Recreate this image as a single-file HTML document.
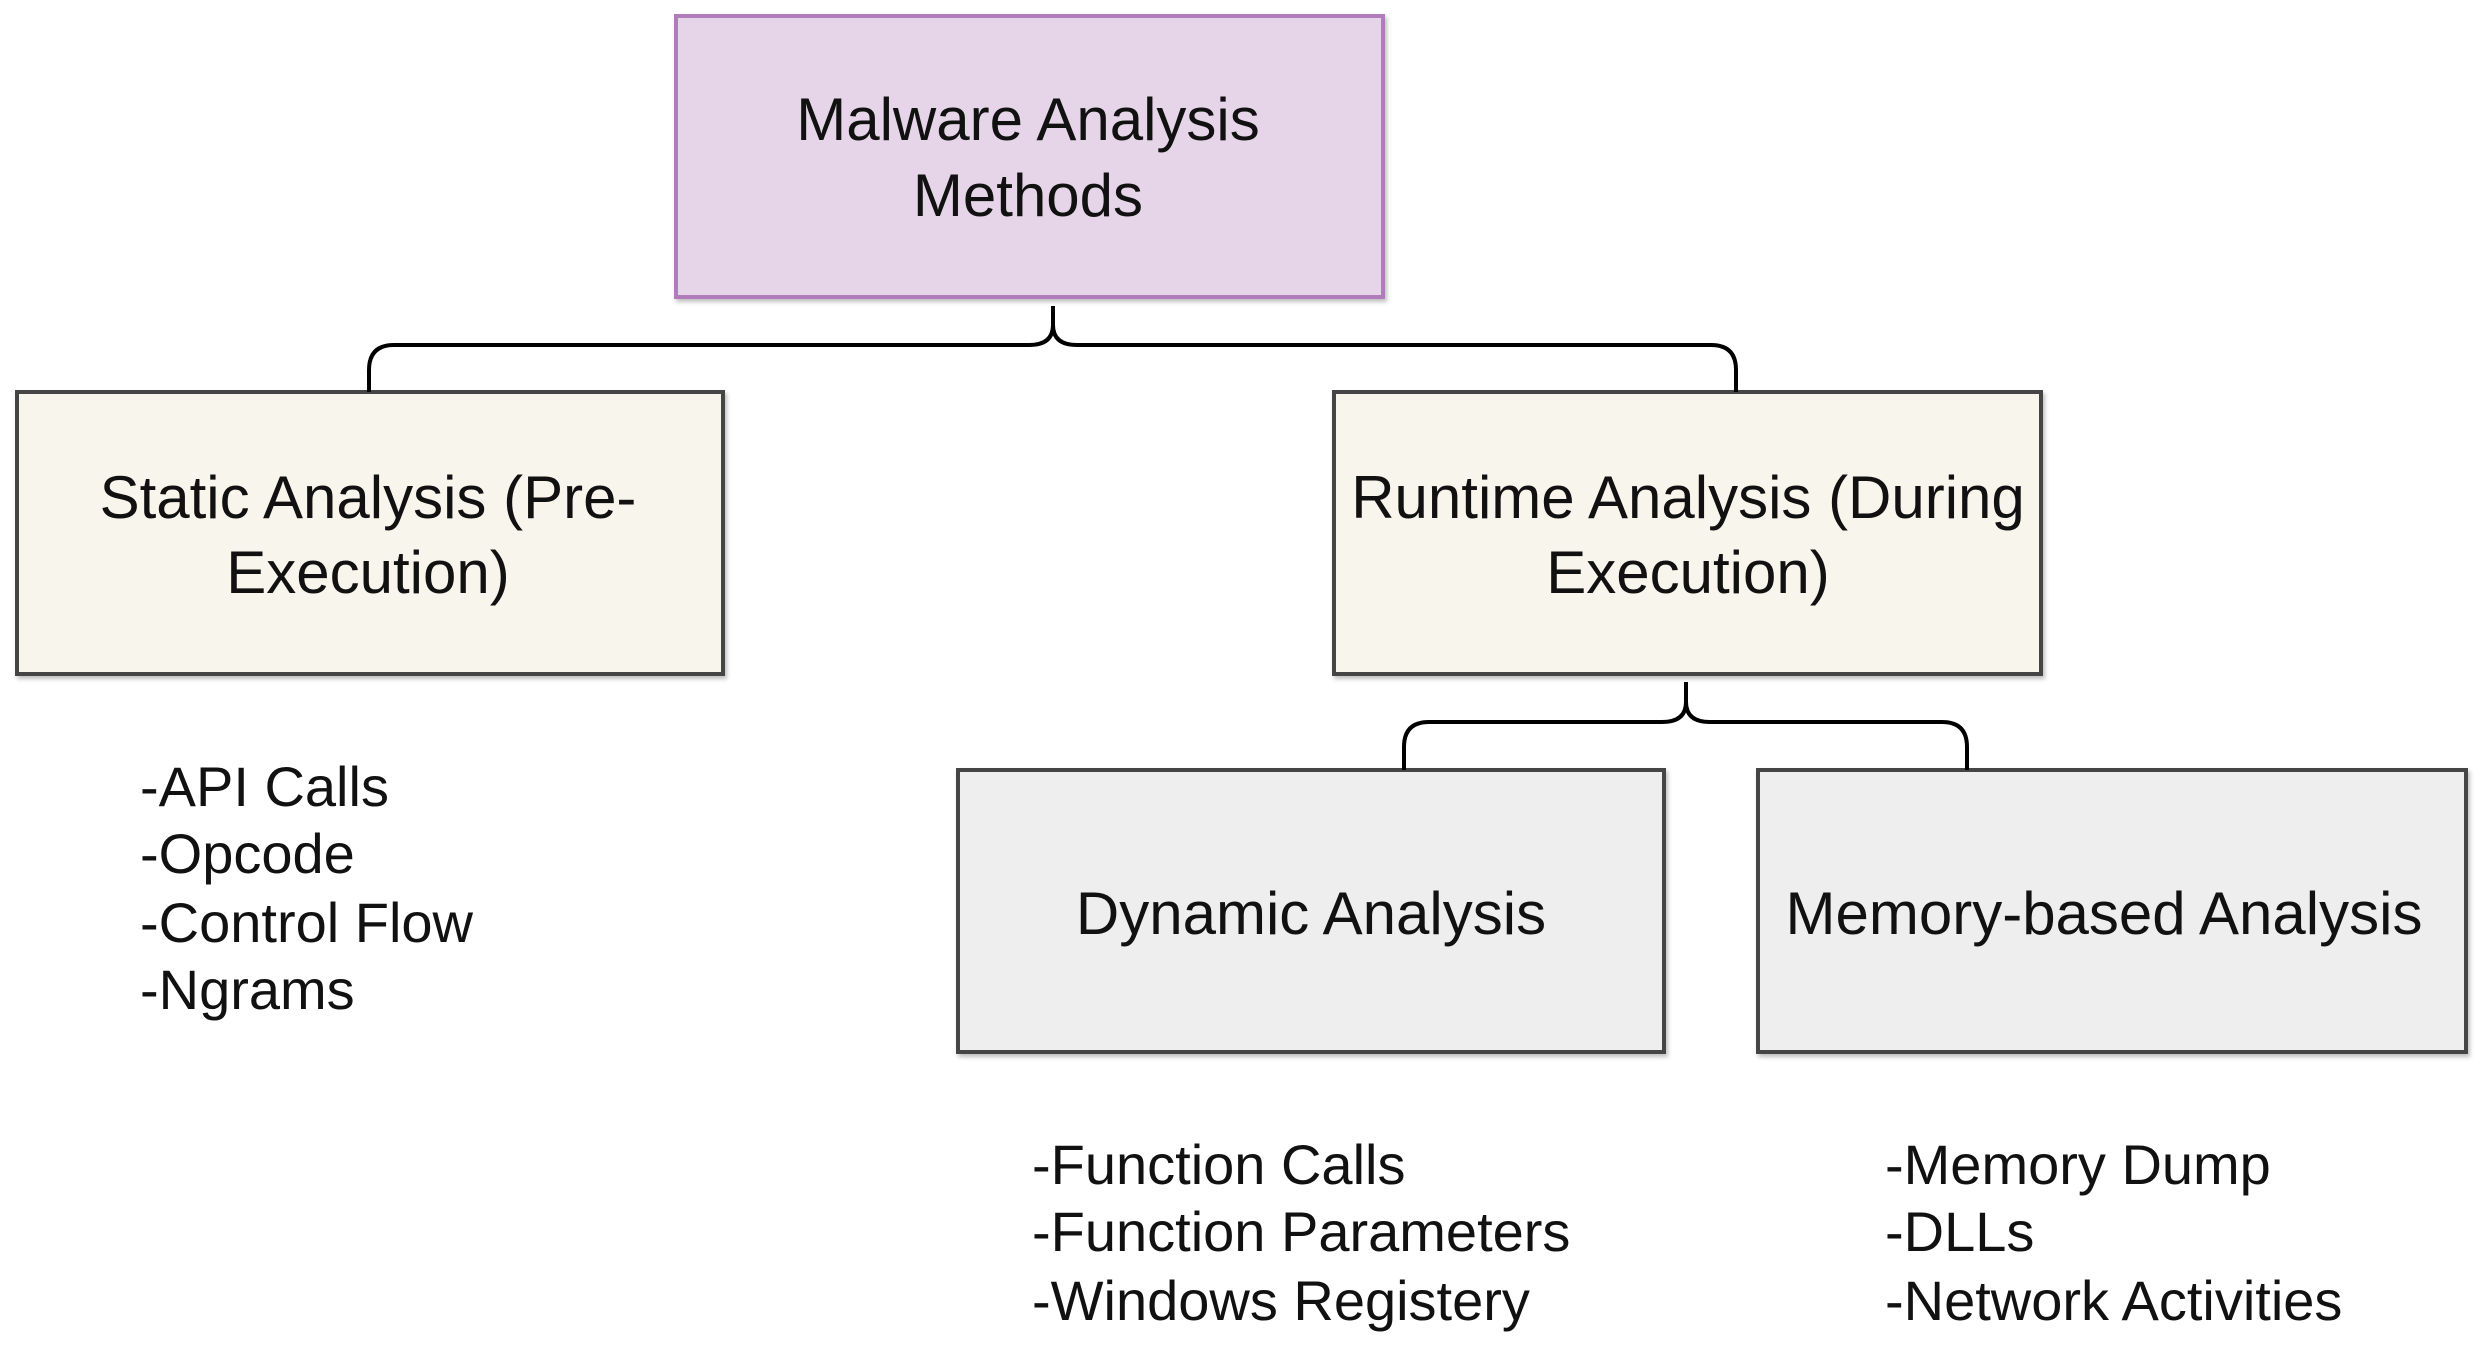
<!DOCTYPE html>
<html><head><meta charset="utf-8"><style>
html,body{margin:0;padding:0;background:#fff;}
svg{display:block;}
text{font-family:"Liberation Sans",Arial,sans-serif;font-size:56px;fill:#111;}
.b{font-size:60px;}
</style></head><body>
<svg width="2484" height="1346" viewBox="0 0 2484 1346" xmlns="http://www.w3.org/2000/svg">
<defs><filter id="sh" x="-5%" y="-5%" width="110%" height="110%"><feDropShadow dx="2" dy="3" stdDeviation="2" flood-color="#000" flood-opacity="0.25"/></filter></defs>
<rect x="676" y="16" width="707" height="281" fill="#e6d5e8" stroke="#b07cbc" stroke-width="4" filter="url(#sh)"/>
<rect x="17" y="392" width="706" height="282" fill="#f8f5ec" stroke="#444" stroke-width="4" filter="url(#sh)"/>
<rect x="1334" y="392" width="707" height="282" fill="#f8f5ec" stroke="#444" stroke-width="4" filter="url(#sh)"/>
<rect x="958" y="770" width="706" height="282" fill="#eeeeee" stroke="#444" stroke-width="4" filter="url(#sh)"/>
<rect x="1758" y="770" width="708" height="282" fill="#eeeeee" stroke="#444" stroke-width="4" filter="url(#sh)"/>
<g fill="none" stroke="#000" stroke-width="4">
<path d="M1053 306 L1053 325 Q1053 345 1029 345 L394 345 Q369 345 369 370 L369 392"/>
<path d="M1053 306 L1053 325 Q1053 345 1077 345 L1711 345 Q1736 345 1736 370 L1736 392"/>
<path d="M1686 682 L1686 702 Q1686 722 1662 722 L1429 722 Q1404 722 1404 747 L1404 770"/>
<path d="M1686 682 L1686 702 Q1686 722 1710 722 L1942 722 Q1967 722 1967 747 L1967 770"/>
</g>
<g text-anchor="middle" class="b">
<text class="b" x="1028" y="140">Malware Analysis</text>
<text class="b" x="1028" y="216">Methods</text>
<text class="b" x="368" y="518">Static Analysis (Pre-</text>
<text class="b" x="368" y="593">Execution)</text>
<text class="b" x="1688" y="518">Runtime Analysis (During</text>
<text class="b" x="1688" y="593">Execution)</text>
<text class="b" x="1311" y="934">Dynamic Analysis</text>
<text class="b" x="2104" y="934">Memory-based Analysis</text>
</g>
<text x="140" y="806">-API Calls</text>
<text x="140" y="873">-Opcode</text>
<text x="140" y="942">-Control Flow</text>
<text x="140" y="1009">-Ngrams</text>
<text x="1032" y="1184">-Function Calls</text>
<text x="1032" y="1251">-Function Parameters</text>
<text x="1032" y="1320">-Windows Registery</text>
<text x="1885" y="1184">-Memory Dump</text>
<text x="1885" y="1251">-DLLs</text>
<text x="1885" y="1320">-Network Activities</text>
</svg>
</body></html>
